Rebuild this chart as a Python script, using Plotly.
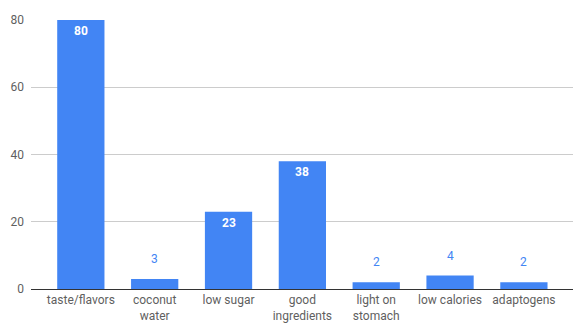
import plotly.graph_objects as go

categories = ["taste/flavors", "coconut<br>water", "low sugar", "good<br>ingredients",
              "light on<br>stomach", "low calories", "adaptogens"]
values = [80, 3, 23, 38, 2, 4, 2]
y_ticks = [0, 20, 40, 60, 80]

BLUE = "#4285F4"
FONT = "Roboto, Arial, sans-serif"

fig = go.Figure()
fig.add_trace(go.Bar(
    x=list(range(len(categories))), y=values,
    marker=dict(color=BLUE, line=dict(width=0)),
    width=0.64, hoverinfo="skip",
))

annotations = []
for i, v in enumerate(values):
    inside = v >= 10
    annotations.append(dict(
        x=i, y=v, xref="x", yref="y", text=(f"<b>{v}</b>" if inside else str(v)),
        showarrow=False, yshift=(-11 if inside else 20),
        font=dict(family=FONT, size=12, color=("white" if inside else BLUE)),
    ))

fig.update_layout(
    width=574, height=326,
    margin=dict(l=31, r=1, t=20, b=37),
    paper_bgcolor="white", plot_bgcolor="white",
    showlegend=False,
    font=dict(family=FONT, size=12, color="#5f5f5f"),
    annotations=annotations,
    xaxis=dict(
        tickmode="array", tickvals=list(range(len(categories))), ticktext=categories,
        range=[-0.675, 6.665], showgrid=False, zeroline=False, showline=False,
        ticks="", ticklabelstandoff=2,
        tickfont=dict(family=FONT, size=12, color="#5f5f5f"),
    ),
    yaxis=dict(
        range=[0, 80], tickvals=y_ticks, showgrid=True, gridcolor="#cccccc",
        gridwidth=1, zeroline=True, zerolinecolor="#333333", zerolinewidth=1,
        ticks="", ticklabelstandoff=6,
        tickfont=dict(family=FONT, size=12, color="#5f5f5f"),
    ),
)

fig.write_html("out.html")
